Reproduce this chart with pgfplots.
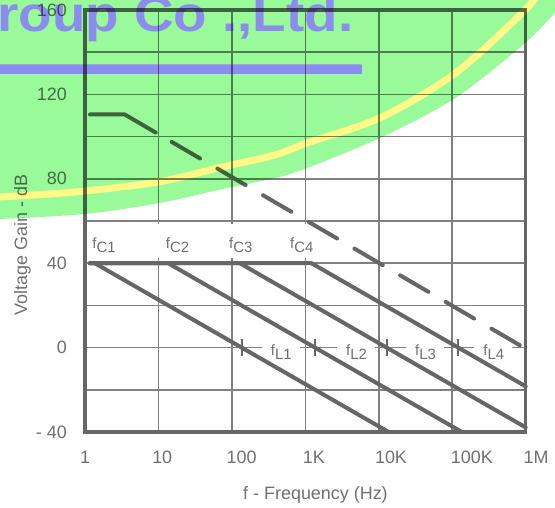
\documentclass[border=0pt]{standalone}
\usepackage{fontspec}
\setmainfont{Liberation Sans}
\usepackage{pgfplots}
\pgfplotsset{compat=1.18}
\definecolor{txtgray}{RGB}{112,112,112}
\definecolor{crvgray}{RGB}{102,102,102}
\definecolor{gridgray}{RGB}{128,128,128}
\definecolor{wmgreen}{RGB}{152,250,152}
\definecolor{wmyellow}{RGB}{255,250,135}
\definecolor{wmblue}{RGB}{140,140,240}
\newcommand{\fl}[1]{f\raisebox{-4bp}{#1}}
\tikzset{
  fcbox/.style={anchor=base west, fill=white, inner sep=0pt, text=txtgray,
    font=\fontsize{15}{15}\selectfont, xshift=-8bp},
  flbox/.style={anchor=base west, fill=white, inner sep=0pt, text=txtgray,
    font=\fontsize{15}{15}\selectfont, xshift=-9bp},
}
\newcommand{\fcl}[1]{\hspace*{8bp}\fl{#1}\hspace*{8bp}\rule[-9bp]{0pt}{34bp}}
\newcommand{\fll}[1]{\hspace*{9bp}\fl{#1}\hspace*{8bp}\rule[-5bp]{0pt}{17bp}}
\begin{document}
\begin{tikzpicture}
\path[use as bounding box] (-85bp,-76bp) rectangle (470bp,432bp);
\begin{axis}[
  at={(0,0)}, anchor=south west,
  scale only axis, width=440.7bp, height=422bp,
  xmode=log, log basis x=10,
  xmin=1, xmax=1e6, ymin=-40, ymax=160,
  xtick={1,10,100,1000,10000,100000,1000000},
  xticklabels={1,\hspace*{7.6bp}10,\hspace*{19.4bp}100,\hspace*{17.2bp}1K,\hspace*{24.4bp}10K,\hspace*{39.2bp}100K,\hspace*{20.6bp}1M},
  xminorticks=false,
  ytick={-40,-20,...,160},
  yticklabels={- 40,,0,,40,,80,,120,,160},
  grid=major,
  major grid style={draw=gridgray, line width=1.5bp},
  major tick length=0pt, minor tick length=0pt,
  axis line style={draw=crvgray, line width=3.5bp},
  tick label style={font=\fontsize{18}{20}\selectfont, text=txtgray, inner sep=0pt},
  xticklabel style={anchor=north, yshift=-18.5bp},
  yticklabel style={anchor=east, xshift=-18bp},
  xlabel={f - Frequency (Hz)}, ylabel={Voltage Gain - dB},
  label style={font=\fontsize{18}{20}\selectfont, text=txtgray},
  xlabel style={at={(axis description cs:0.523,-0.1604)}, anchor=base},
  ylabel style={at={(axis description cs:-0.1316,0.4431)}, anchor=base},
  clip=false,
]
\node[fcbox, xshift=4bp] at (axis cs:1.257,46.73) {\hspace*{-4bp}\fcl{C1}};
\node[fcbox] at (axis cs:12.55,46.73) {\fcl{C2}};
\node[fcbox] at (axis cs:91.3,46.73) {\fcl{C3}};
\node[fcbox] at (axis cs:618,46.73) {\fcl{C4}};
\node[flbox] at (axis cs:337.6,-3.74) {\fll{L1}};
\node[flbox] at (axis cs:3577,-3.74) {\fll{L2}};
\node[flbox] at (axis cs:31110,-3.74) {\fll{L3}};
\node[flbox] at (axis cs:264700,-3.74) {\fll{L4}};
\addplot[crvgray, line width=4bp, line cap=round, line join=round] coordinates {(1.17,40) (1.36,40) (13600,-40)};
\addplot[crvgray, line width=4bp, line cap=round, line join=round] coordinates {(1.17,40) (13.53,40) (135300,-40)};
\addplot[crvgray, line width=4bp, line cap=round, line join=round] coordinates {(1.17,40) (128.1,40) (1000000,-37.84)};
\addplot[crvgray, line width=4bp, line cap=round, line join=round] coordinates {(1.17,40) (1209,40) (1000000,-18.36)};
\addplot[crvgray, line width=4bp, line cap=round, line join=round,
  dash pattern=on 70.5bp off 18.6bp on 32.8bp off 20.1bp on 32.8bp off 20.1bp on 32.8bp off 20.1bp on 32.8bp off 20.1bp on 32.8bp off 20.1bp on 32.8bp off 20.1bp on 32.8bp off 20.1bp on 32.8bp off 20.1bp]
  coordinates {(1.17,110.5) (3.47,110.5) (1000000,-0.5)};
\addplot[only marks, mark=|, mark size=8.8bp, mark options={line width=2bp, draw=crvgray}]
  coordinates {(136,0) (1353,0) (12810,0) (120900,0)};
\end{axis}
\begin{scope}[blend mode=multiply]
\begin{scope}[transparency group]
\begin{scope}[x=1bp, y=-1bp, shift={(-85bp,432bp)}]
  \fill[wmgreen] (-5,-5) -- (570,-5) -- plot[smooth] coordinates {(570,0) (555,13) (525,43) (457,97) (382,137) (307,168) (275,178) (218,190) (160,203) (85,214) (0,219) (-5,219)} -- cycle;
  \draw[wmyellow, line width=7bp] plot[smooth] coordinates {(-5,197.5) (0,197) (75,192) (158,182) (218,168) (275,155) (307,143) (382,117) (457,72) (525,10) (540,-10)};
  \fill[wmblue] (-5,64.5) rectangle (362,74);
  \node[anchor=base west, inner sep=0pt, text=wmblue, font=\fontsize{50}{50}\selectfont\bfseries, xscale=1.1] at (-3,31.5) {roup Co .,Ltd.};
\end{scope}
\end{scope}
\end{scope}
\end{tikzpicture}
\end{document}
